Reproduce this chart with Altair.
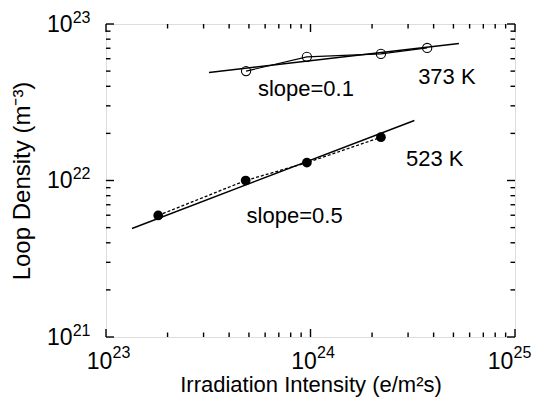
import altair as alt
import pandas as pd

# ---- data ----
x_373 = [4.84e23, 9.6e23, 2.21e24, 3.72e24]
y_373 = [5.0e22, 6.17e22, 6.44e22, 7.03e22]
x_523 = [1.80e23, 4.82e23, 9.6e23, 2.21e24]
y_523 = [5.98e21, 1.0e22, 1.30e22, 1.89e22]
fit_373_x = [3.19e23, 5.32e24]
fit_373_y = [4.9e22, 7.5e22]
fit_523_x = [1.34e23, 3.22e24]
fit_523_y = [4.94e21, 2.42e22]
label_text = ["373 K", "slope=0.1", "523 K", "slope=0.5"]
label_x = [3.36e24, 5.53e23, 2.93e24, 4.87e23]
label_y = [4.15e22, 3.48e22, 1.23e22, 5.32e21]
x_domain = [1e23, 1e25]
y_domain = [1e21, 1e23]
x_major = [1e23, 1e24, 1e25]
y_major = [1e21, 1e22, 1e23]
x_minor = [k * 10.0 ** e for e in (23, 24) for k in range(2, 10)]
y_minor = [k * 10.0 ** e for e in (21, 22) for k in range(2, 10)]
x_title = "Irradiation Intensity (e/m\u00b2s)"
y_title = "Loop Density (m\u207b\u00b3)"

W, H = 409, 313
FONT = "Liberation Sans"
MAJOR_LEN, MINOR_LEN = 8, 4.5

xs = alt.Scale(type="log", domain=x_domain, nice=False)
ys = alt.Scale(type="log", domain=y_domain, nice=False)

df373 = pd.DataFrame({"x": x_373, "y": y_373})
df523 = pd.DataFrame({"x": x_523, "y": y_523})
dfit373 = pd.DataFrame({"x": fit_373_x, "y": fit_373_y})
dfit523 = pd.DataFrame({"x": fit_523_x, "y": fit_523_y})
dlab = pd.DataFrame({"x": label_x, "y": label_y, "t": label_text})


def enc(ch):
    return ch.encode(
        x=alt.X("x:Q", scale=xs, axis=None),
        y=alt.Y("y:Q", scale=ys, axis=None),
    )


# inward frame ticks: rules from a frame edge, pushed inward by a pixel length
def x_ticks(values, edge, length):
    d = pd.DataFrame({"x": values, "y": [edge] * len(values)})
    return alt.Chart(d).mark_rule(color="black", strokeWidth=1.4, y2Offset=length).encode(
        x=alt.X("x:Q", scale=xs, axis=None),
        y=alt.Y("y:Q", scale=ys, axis=None),
        y2="y:Q",
    )


def y_ticks(values, edge, length):
    d = pd.DataFrame({"y": values, "x": [edge] * len(values)})
    return alt.Chart(d).mark_rule(color="black", strokeWidth=1.4, x2Offset=length).encode(
        x=alt.X("x:Q", scale=xs, axis=None),
        y=alt.Y("y:Q", scale=ys, axis=None),
        x2="x:Q",
    )


tick_layers = [
    x_ticks(x_major, y_domain[0], -MAJOR_LEN),
    x_ticks(x_minor, y_domain[0], -MINOR_LEN),
    x_ticks(x_major, y_domain[1], MAJOR_LEN),
    x_ticks(x_minor, y_domain[1], MINOR_LEN),
    y_ticks(y_major, x_domain[0], MAJOR_LEN),
    y_ticks(y_minor, x_domain[0], MINOR_LEN),
    y_ticks(y_major, x_domain[1], -MAJOR_LEN),
    y_ticks(y_minor, x_domain[1], -MINOR_LEN),
]

fit1 = enc(alt.Chart(dfit373).mark_line(color="black", strokeWidth=1.5))
fit2 = enc(alt.Chart(dfit523).mark_line(color="black", strokeWidth=1.5))
line1 = enc(alt.Chart(df373).mark_line(color="black", strokeWidth=1.2))
line2 = enc(alt.Chart(df523).mark_line(color="black", strokeWidth=1.3, strokeDash=[3, 2]))
pts1 = enc(alt.Chart(df373).mark_point(shape="circle", filled=False, size=85,
                                        color="black", strokeWidth=1.1, opacity=1))
pts2 = enc(alt.Chart(df523).mark_circle(size=95, color="black", opacity=1))
labels = enc(alt.Chart(dlab).mark_text(align="left", baseline="alphabetic",
                                       fontSize=22, font=FONT, color="black")).encode(text="t:N")

exp_expr = "'' + round(log(datum.value) / LN10)"


def ax_layer(x_axis=None, y_axis=None):
    return alt.Chart(df373).mark_point(opacity=0).encode(
        x=alt.X("x:Q", scale=xs, axis=x_axis),
        y=alt.Y("y:Q", scale=ys, axis=y_axis),
    )


layers = tick_layers + [fit1, fit2, line1, line2, pts1, pts2, labels]

# label axes: base "10" and superscript exponent (last one nudged to stay on the page)
layers.append(ax_layer(x_axis=alt.Axis(
    orient="bottom", values=x_major, labelExpr="'10'", ticks=False, tickSize=0,
    domain=False, grid=False, labelFontSize=23, labelFont=FONT, labelColor="black",
    labelOffset={"condition": {"test": "datum.value > 5e24", "value": -15}, "value": -7},
    labelPadding=13, labelBaseline="top", labelFlush=False,
    title=x_title, titleFont=FONT, titleFontSize=22, titleFontWeight="normal",
    titleColor="black", titlePadding=1)))
layers.append(ax_layer(x_axis=alt.Axis(
    orient="bottom", values=x_major, labelExpr=exp_expr, ticks=False, tickSize=0,
    domain=False, grid=False, labelFontSize=16, labelFont=FONT, labelColor="black",
    labelAlign="left",
    labelOffset={"condition": {"test": "datum.value > 5e24", "value": -2}, "value": 6},
    labelPadding=7, labelBaseline="top",
    labelFlush=False, title=None)))
layers.append(ax_layer(y_axis=alt.Axis(
    orient="left", values=y_major, labelExpr="'10'", ticks=False, tickSize=0,
    domain=False, grid=False, labelFontSize=23, labelFont=FONT, labelColor="black",
    labelPadding=34, labelBaseline="middle", labelFlush=False,
    title=y_title, titleFont=FONT, titleFontSize=24, titleFontWeight="normal",
    titleColor="black", titlePadding=12)))
layers.append(ax_layer(y_axis=alt.Axis(
    orient="left", values=y_major, labelExpr=exp_expr, ticks=False, tickSize=0,
    domain=False, grid=False, labelFontSize=16, labelFont=FONT, labelColor="black",
    labelPadding=16, labelOffset=-7, labelBaseline="middle", labelFlush=False,
    title=None)))

chart = alt.layer(*layers).resolve_axis(x="independent", y="independent").properties(
    width=W, height=H,
    padding={"left": 98, "top": 16, "right": 16, "bottom": 61},
    autosize=alt.AutoSizeParams(type="none"),
).configure_view(stroke="black", strokeWidth=1.5).configure(background="white")

chart.save("out.html", embed_options={"renderer": "svg", "actions": False})
